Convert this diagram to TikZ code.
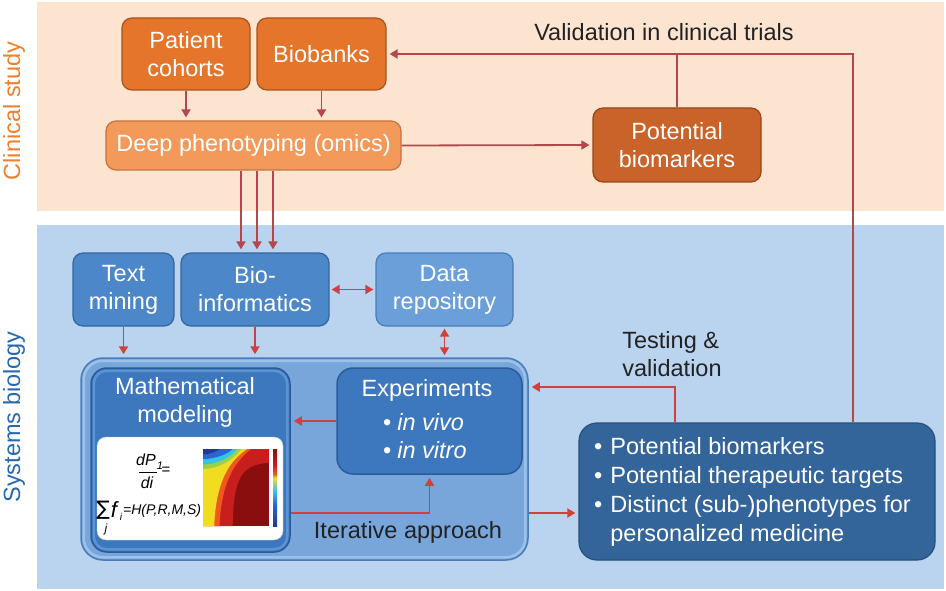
\documentclass[tikz,border=0pt]{standalone}
\usepackage{fontspec}
\setmainfont{Liberation Sans}
\newfontfamily\dejavu{DejaVu Sans}
\usetikzlibrary{arrows.meta}
\definecolor{bgorange}{HTML}{FDE4D0}
\definecolor{bgblue}{HTML}{BAD3EE}
\definecolor{cstudy}{HTML}{F0802E}
\definecolor{sbio}{HTML}{2868AE}
\definecolor{ofill}{HTML}{E5752A}
\definecolor{odraw}{HTML}{A9521C}
\definecolor{dpfill}{HTML}{F3995A}
\definecolor{dpdraw}{HTML}{C4743C}
\definecolor{pbfill}{HTML}{C9632A}
\definecolor{pbdraw}{HTML}{964718}
\definecolor{bfill}{HTML}{4B87C9}
\definecolor{bdraw}{HTML}{3566A2}
\definecolor{drfill}{HTML}{6A9FDA}
\definecolor{drdraw}{HTML}{4A7DB8}
\definecolor{bigfill}{HTML}{78A5DA}
\definecolor{bigdraw}{HTML}{4B7DBD}
\definecolor{bigband}{HTML}{9CC2EA}
\definecolor{mfill}{HTML}{3D77BE}
\definecolor{mdraw}{HTML}{2C5C98}
\definecolor{mband}{HTML}{5C93D2}
\definecolor{rfill}{HTML}{33649A}
\definecolor{rdraw}{HTML}{28507D}
\definecolor{arrA}{HTML}{B4474B}
\definecolor{arrB}{HTML}{D2403B}
\definecolor{lbltext}{HTML}{222222}
\definecolor{hdred}{HTML}{8A0E0E}
\definecolor{hred}{HTML}{C81E1E}
\definecolor{horange}{HTML}{EE5A1E}
\definecolor{hyellow}{HTML}{F2DC20}
\definecolor{hgreen}{HTML}{9AD04A}
\definecolor{hcyan}{HTML}{35C3E6}
\definecolor{hblue}{HTML}{2A66CC}
\definecolor{hdblue}{HTML}{1E3A94}
\begin{document}
\begin{tikzpicture}[x=1pt,y=-1pt,
  txt/.style={font=\fontsize{23.5}{28}\selectfont, text=white, align=center, inner sep=0pt},
  lbl/.style={font=\fontsize{23.5}{28}\selectfont, text=lbltext, inner sep=0pt},
  obox/.style={rounded corners=10pt, draw=odraw, fill=ofill, line width=1.2pt, txt},
  bbox/.style={rounded corners=10pt, draw=bdraw, fill=bfill, line width=1.2pt, txt},
  bigbox/.style={rounded corners=22pt, draw=bigdraw, fill=bigfill, line width=1.5pt, inner sep=0pt},
  mbox/.style={rounded corners=16pt, draw=mdraw, fill=mfill, line width=1.5pt, inner sep=0pt},
  band/.style={rounded corners=#1, line width=2.5pt},
  rbox/.style={rounded corners=18pt, draw=rdraw, fill=rfill, line width=1.2pt, inner sep=0pt},
  arr/.style={draw=arrA, line width=1.8pt, -{Triangle[length=8pt,width=9pt]}, shorten >=3pt},
  arrb/.style={draw=arrB, line width=1.8pt, -{Triangle[length=8pt,width=9pt]}, shorten >=3pt},
  darrb/.style={draw=arrB, line width=1.8pt, {Triangle[length=8pt,width=9pt]}-{Triangle[length=8pt,width=9pt]}, shorten >=2pt, shorten <=2pt},
  plainA/.style={draw=arrA, line width=1.8pt},
  fm/.style={inner sep=0pt, text=black}
]
\useasboundingbox (0,0) rectangle (946,591);
\fill[white] (0,0) rectangle (946,591);
\fill[bgorange] (37,2) rectangle (944,211);
\fill[bgblue] (37,225) rectangle (944,589);

\node[rotate=90, lbl, text=cstudy] (lblc) at (14,111) {Clinical study};
\node[rotate=90, lbl, text=sbio] (lbls) at (14,417) {Systems biology};

% clinical study
\node[obox, minimum width=128pt, minimum height=72pt] (pc) at (186,54) {Patient\\cohorts};
\node[obox, minimum width=129pt, minimum height=72pt] (bb) at (321.5,54) {Biobanks};
\node[obox, fill=dpfill, draw=dpdraw, minimum width=295pt, minimum height=49pt] (dp) at (253.5,145.5) {Deep phenotyping (omics)};
\node[obox, fill=pbfill, draw=pbdraw, minimum width=168pt, minimum height=74pt] (pb) at (677,145) {Potential\\biomarkers};
\node[lbl] (val) at (664,32) {Validation in clinical trials};

% systems biology
\node[bbox, minimum width=101pt, minimum height=73pt] (tm) at (123.5,289.5) {Text\\mining};
\node[bbox, minimum width=148pt, minimum height=73pt] (bio) at (255,289.5) {Bio-\\informatics};
\node[bbox, fill=drfill, draw=drdraw, minimum width=137pt, minimum height=73pt] (dr) at (444.5,289.5) {Data\\repository};

\node[bigbox, minimum width=447pt, minimum height=202pt] (big) at (304.5,459) {};
\draw[band=19pt, draw=bigband] ([shift={(3.5pt,-3.5pt)}]big.north west) rectangle ([shift={(-3.5pt,3.5pt)}]big.south east);
\node[mbox, minimum width=199pt, minimum height=184pt] (mm) at (190.5,460) {};
\draw[band=13pt, draw=mband] ([shift={(3.5pt,-3.5pt)}]mm.north west) rectangle ([shift={(-3.5pt,3.5pt)}]mm.south east);
\node[txt] (mmt) at (185,402) {Mathematical\\modeling};
\node[fill=white, draw=bdraw!40, rounded corners=9pt, minimum width=186pt, minimum height=103pt, inner sep=0pt] (wi) at (190,488.5) {};
\node[mbox, minimum width=185pt, minimum height=106pt] (exp) at (429.5,421) {};
\node[txt] (expt) at (427,390) {Experiments};
\node[txt, anchor=west] (viv) at (383,422) {•\hspace{6pt}\textit{in vivo}};
\node[txt, anchor=west] (vit) at (383,450) {•\hspace{6pt}\textit{in vitro}};
\node[lbl] (iter) at (408,532) {Iterative approach};

\node[rbox, minimum width=356pt, minimum height=137pt] (res) at (757,491.5) {};
\node[txt, font=\fontsize{23.5}{29}\selectfont, anchor=west, align=left] (rest) at (594,492)
  {\begin{tabular}{@{}l@{\hspace{8pt}}l@{}}•&Potential biomarkers\\•&Potential therapeutic targets\\•&Distinct (sub-)phenotypes for\\&personalized medicine\end{tabular}};
\node[lbl, align=left] (tv) at (672,354) {Testing \&\\validation};

% heatmap
\begin{scope}[shift={(203,449)}, x=66pt, y=-77pt]
  \clip (0,0) rectangle (1,1);
  \fill[hdred] (0,0) rectangle (1,1);
  \fill[hred] (0.45,1) .. controls (0.46,0.35) and (0.6,0.2) .. (1,0.18) -- (1,0) -- (0,0) -- (0,1) -- cycle;
  \fill[horange] (0.25,1) .. controls (0.28,0.35) and (0.55,0.12) .. (0.73,0) -- (0,0) -- (0,1) -- cycle;
  \fill[hyellow] (0.17,1) .. controls (0.2,0.3) and (0.5,0.1) .. (0.67,0) -- (0,0) -- (0,1) -- cycle;
  \fill[hgreen] (0,0.26) .. controls (0.3,0.25) and (0.5,0.1) .. (0.58,0) -- (0,0) -- cycle;
  \fill[hcyan] (0,0.2) .. controls (0.25,0.2) and (0.45,0.08) .. (0.52,0) -- (0,0) -- cycle;
  \fill[hblue] (0,0.13) .. controls (0.2,0.13) and (0.38,0.06) .. (0.45,0) -- (0,0) -- cycle;
  \fill[hdblue] (0,0.07) .. controls (0.1,0.07) and (0.22,0.03) .. (0.25,0) -- (0,0) -- cycle;
\end{scope}
% colorbar
\shade[top color=hdred, bottom color=hred] (273,449) rectangle (277,465);
\shade[top color=hred, bottom color=horange] (273,465) rectangle (277,474);
\shade[top color=horange, bottom color=hyellow] (273,474) rectangle (277,478);
\shade[top color=hyellow, bottom color=hcyan] (273,478) rectangle (277,491);
\shade[top color=hcyan, bottom color=hblue] (273,491) rectangle (277,505);
\shade[top color=hblue, bottom color=hdblue] (273,505) rectangle (277,526);

% formula
\node[fm, font=\fontsize{16}{16}\selectfont\itshape] (dpn) at (146,460) {dP};
\node[fm, font=\fontsize{11}{11}\selectfont\itshape] (sub1) at (160,466) {1};
\draw[black, line width=0.7pt] (139,472) -- (157,472);
\node[fm, font=\fontsize{15}{15}\selectfont] (eq1) at (166,471) {=};
\node[fm, font=\fontsize{16}{16}\selectfont\itshape] (din) at (147,483) {di};
\node[fm, font=\fontsize{20}{20}\selectfont\dejavu] (sum) at (103,510) {∑};
\node[fm, font=\fontsize{12}{12}\selectfont\itshape] (jj) at (106,529) {j};
\node[fm, font=\fontsize{22}{22}\selectfont\itshape] (ff) at (114,510) {f};
\node[fm, font=\fontsize{10}{10}\selectfont\itshape] (ii) at (121,517) {i};
\node[fm, font=\fontsize{14}{14}\selectfont\itshape, anchor=west] (hh) at (123,511) {=H(P,R,M,S)};

% connectors
\coordinate (vx) at (853,53);
\draw[arr] (res.north -| vx) |- (bb.east);
\draw[plainA] (pb.north) -- (pb.north |- bb.east);
\draw[arr] (pc.south) -- (pc.south |- dp.north);
\draw[arr] (bb.south) -- (bb.south |- dp.north);
\draw[arr] (dp.east) -- (pb.west);
\foreach \dx in {-14,2,18}
  \draw[arr] ([xshift=\dx pt]bio.north |- dp.south) -- ([xshift=\dx pt]bio.north);
\draw[arrb] (tm.south) -- (tm.south |- big.north);
\draw[arrb] (bio.south) -- (bio.south |- big.north);
\draw[darrb] (dr.south) -- (dr.south |- big.north);
\draw[darrb] (bio.east) -- (dr.west);
\draw[arrb] (exp.west) -- (mm.east |- exp.west);
\coordinate (iy) at (300,513);
\draw[arrb] (mm.east |- iy) -| (exp.south);
\coordinate (tv1) at (675,387);
\draw[arrb] (res.north -| tv1) |- (big.east |- tv1);
\draw[arrb] (big.east |- iy) -- (res.west |- iy);
\end{tikzpicture}
\end{document}
